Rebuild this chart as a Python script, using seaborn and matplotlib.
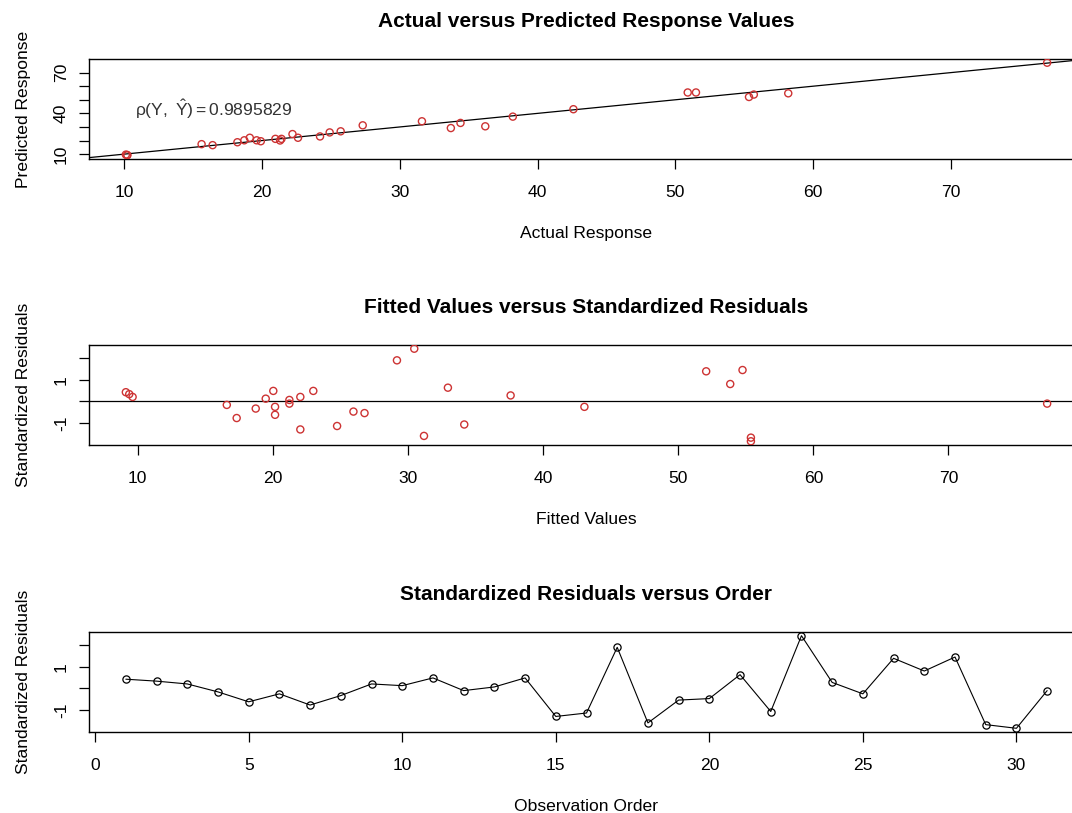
import numpy as np
import seaborn as sns
import matplotlib.pyplot as plt
from matplotlib.transforms import offset_copy

# observation values (in observation order)
order = list(range(1, 32))
actual = [10.2, 10.2, 10.1, 16.4, 18.7, 19.6, 15.6, 18.2, 22.6, 19.9,
          21.3, 20.96, 21.4, 24.2, 19.1, 22.2, 33.7, 27.3, 25.7, 24.9,
          34.4, 31.6, 36.2, 38.2, 42.6, 55.35, 55.7, 58.2, 51.5, 50.9, 77.0]
fitted = [9.13, 9.38, 9.63, 16.6, 20.17, 20.17, 17.33, 18.74, 22.04, 19.48,
          20.04, 21.23, 21.23, 23.0, 22.04, 24.76, 29.19, 31.19, 26.79, 25.97,
          32.96, 34.17, 30.47, 37.6, 43.06, 52.07, 53.85, 54.76, 55.38, 55.38, 77.3]
std_resid = [0.43, 0.34, 0.21, -0.16, -0.62, -0.25, -0.77, -0.33, 0.21, 0.13,
             0.49, -0.10, 0.07, 0.49, -1.30, -1.14, 1.91, -1.60, -0.54, -0.47,
             0.64, -1.07, 2.45, 0.28, -0.25, 1.40, 0.81, 1.46, -1.68, -1.85, -0.10]
rho_text = r"$\mathrm{\rho(Y,\ \hat{Y})=0.9895829}$"

red = "#CD3333"
fs = 12.6

sns.set_style("white")
plt.rcParams['font.family'] = ['Liberation Sans', 'DejaVu Sans']
plt.rcParams['mathtext.fontset'] = 'custom'
plt.rcParams['mathtext.rm'] = 'Liberation Sans'
plt.rcParams['mathtext.it'] = 'Liberation Sans:italic'
plt.rcParams['font.size'] = fs
plt.rcParams['text.color'] = 'black'
plt.rcParams['axes.labelcolor'] = 'black'


def r_lim(v):
    # R style axis range: data range plus 4% on each side
    lo, hi = min(v), max(v)
    d = (hi - lo) * 0.04
    return lo - d, hi + d


fig = plt.figure(figsize=(10.72, 8.13), dpi=100)
W, H = 1072, 813
left, right = 89, 1084
tops = [59, 345, 632]
axes = []
for t in tops:
    axes.append(fig.add_axes([left / W, (H - t - 100) / H, (right - left) / W, 100 / H]))


def style(ax, title, xlabel, ylabel):
    for s in ax.spines.values():
        s.set_color("black")
        s.set_linewidth(1.0)
    ax.tick_params(direction="out", length=7.5, width=0.9, color="black",
                   labelsize=fs, labelcolor="black", bottom=True, left=True)
    ax.tick_params(axis="x", pad=11)
    ax.tick_params(axis="y", pad=7)
    plt.setp(ax.get_yticklabels(), rotation=90, va="center")
    ax.set_title(title, fontsize=15, fontweight="bold", pad=23, color="black")
    ax.set_xlabel(xlabel, fontsize=fs)
    ax.set_ylabel(ylabel, fontsize=fs)
    ax.xaxis.set_label_coords(0.5, 0, transform=offset_copy(ax.transAxes, fig, x=0, y=-48, units="points"))
    ax.yaxis.set_label_coords(0, 0.5, transform=offset_copy(ax.transAxes, fig, x=-42, y=0, units="points"))


# actual vs predicted
ax = axes[0]
sns.scatterplot(x=actual, y=fitted, ax=ax, s=26, facecolor="none",
                edgecolor=red, linewidth=1.0, zorder=3)
ax.axline((0, 0), slope=1, color="black", linewidth=0.9)
ax.set_xlim(r_lim(actual))
ax.set_ylim(r_lim(fitted))
ax.set_xticks(range(10, 80, 10))
ax.set_yticks(range(10, 80, 10))
ax.set_yticklabels(["10", "", "", "40", "", "", "70"])
ax.text(10.8, 37.7, rho_text, fontsize=fs, color="#333333", ha="left", va="baseline")
style(ax, "Actual versus Predicted Response Values", "Actual Response", "Predicted Response")

# fitted vs residuals
ax = axes[1]
sns.scatterplot(x=fitted, y=std_resid, ax=ax, s=26, facecolor="none",
                edgecolor=red, linewidth=1.0, zorder=3)
ax.axhline(0, color="black", linewidth=0.9)
ax.set_xlim(r_lim(fitted))
ax.set_ylim(r_lim(std_resid))
ax.set_xticks(range(10, 80, 10))
ax.set_yticks([-1, 0, 1, 2])
ax.set_yticklabels(["-1", "", "1", ""])
style(ax, "Fitted Values versus Standardized Residuals", "Fitted Values", "Standardized Residuals")

# residuals vs order
ax = axes[2]
sns.lineplot(x=order, y=std_resid, ax=ax, color="black", linewidth=0.8,
             marker="o", markersize=5.2, markerfacecolor="none",
             markeredgecolor="black", markeredgewidth=0.9)
ax.set_xlim(r_lim(order))
ax.set_ylim(r_lim(std_resid))
ax.set_xticks(range(0, 35, 5))
ax.set_yticks([-1, 0, 1, 2])
ax.set_yticklabels(["-1", "", "1", ""])
style(ax, "Standardized Residuals versus Order", "Observation Order", "Standardized Residuals")

fig.savefig("out.png", dpi=100)
